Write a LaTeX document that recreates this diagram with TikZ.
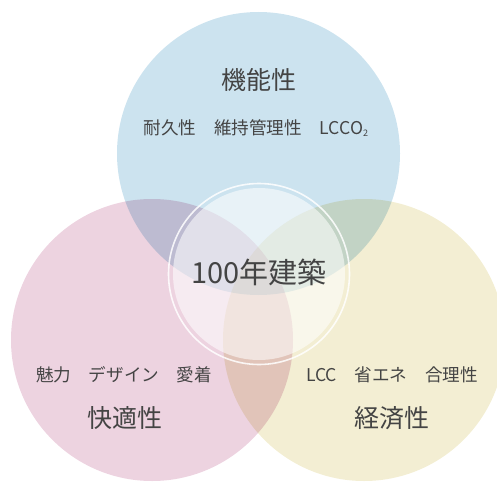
\documentclass[tikz,border=0pt]{standalone}
\usepackage{fontspec}
\setmainfont{Noto Sans CJK JP}
\definecolor{cblue}{HTML}{CCE3EF}
\definecolor{cpink}{HTML}{EDD3E0}
\definecolor{cyellow}{HTML}{F3EED3}
\definecolor{ctext}{HTML}{444444}
\tikzset{
  title/.style={text=ctext, font=\fontsize{25}{25}\selectfont, inner sep=0pt},
  sub/.style={text=ctext, font=\fontsize{17.6}{17.6}\selectfont, inner sep=0pt},
  center/.style={text=ctext, font=\fontsize{29}{29}\selectfont, inner sep=0pt},
}
\begin{document}
\begin{tikzpicture}[x=1pt,y=-1pt]
\useasboundingbox (0,0) rectangle (497,481);
\clip (0,0) rectangle (497,481);
\begin{scope}[blend group=multiply]
  \fill[cblue] (258.5,153.5) circle (141.5);
  \fill[cpink] (152,340) circle (141);
  \fill[cyellow] (364,340) circle (141);
\end{scope}
\fill[white, opacity=0.55] (259,274) circle (86);
\draw[white, opacity=0.85, line width=1.6pt] (259,274) circle (90.5);
\node[title] (kino) at (258.5,80) {機能性};
\node[sub] (kinosub) at (256,128) {耐久性　維持管理性　LCCO\raisebox{-1.5pt}{\fontsize{9}{9}\selectfont 2}};
\node[center] (hyaku) at (259,272) {100年建築};
\node[sub] (kaisub) at (124,375) {魅力　デザイン　愛着};
\node[title] (kai) at (125,418) {快適性};
\node[sub] (keisub) at (392,375) {LCC　省エネ　合理性};
\node[title] (kei) at (392,418) {経済性};
\end{tikzpicture}
\end{document}
